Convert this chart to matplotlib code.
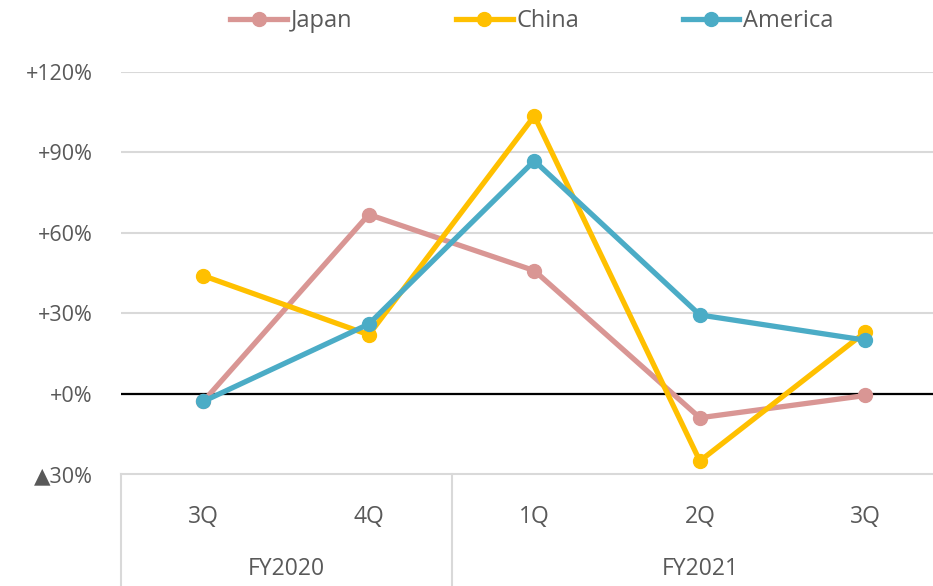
import matplotlib
matplotlib.use("Agg")
import matplotlib.pyplot as plt
import matplotlib.transforms as mtransforms

quarters = ["3Q", "4Q", "1Q", "2Q", "3Q"]
groups = ["FY2020", "FY2021"]
group_sizes = [2, 3]

japan = [-2.8, 66.8, 45.9, -8.9, -0.6]
china = [44.0, 22.0, 103.5, -25.0, 23.0]
america = [-2.8, 26.0, 86.8, 29.4, 20.0]

yticks = [-30, 0, 30, 60, 90, 120]
ytick_labels = ["▲30%", "+0%", "+30%", "+60%", "+90%", "+120%"]

plt.rcParams['font.family'] = ['Open Sans', 'DejaVu Sans']
text_col = '#595959'
grid_col = '#D9D9D9'

fig = plt.figure(figsize=(9.33, 5.86), dpi=100)
ax = fig.add_axes([0.1292, 0.1904, 0.887, 0.6873])

x = list(range(len(quarters)))
series = [("Japan", japan, '#D99694'), ("China", china, '#FFC000'), ("America", america, '#4BACC6')]
for name, vals, col in series:
    ax.plot(x, vals, color=col, lw=3.8, marker='o', ms=10, label=name, zorder=3)

ax.set_xlim(-0.5, len(quarters) - 0.5)
ax.set_ylim(-30, 120)
ax.set_yticks(yticks)
ax.set_yticklabels(ytick_labels, fontsize=15.5, color=text_col)
ax.tick_params(axis='y', length=0, pad=20)
for t in yticks[1:]:
    ax.axhline(t, color=grid_col, lw=1.5, zorder=1)
ax.axhline(0, color='black', lw=1.6, zorder=2)
for s in ax.spines.values():
    s.set_visible(False)
ax.spines['bottom'].set_visible(True)
ax.spines['bottom'].set_color(grid_col)
ax.spines['bottom'].set_linewidth(1.5)

# category axis as a two-level table
ax.set_xticks(x)
ax.set_xticklabels(quarters, fontsize=16.5, color=text_col)
ax.tick_params(axis='x', length=0, pad=22)
trans = mtransforms.blended_transform_factory(ax.transData, ax.transAxes)
edge = -0.5
for g, n in zip(groups, group_sizes):
    ax.plot([edge, edge], [0, -0.35], transform=trans, color=grid_col, lw=1.5, clip_on=False)
    ax.text(edge + n / 2, -0.235, g, transform=trans, ha='center', va='center',
            fontsize=16.5, color=text_col)
    edge += n
ax.plot([edge, edge], [0, -0.35], transform=trans, color=grid_col, lw=1.5, clip_on=False)

fig.legend(loc='center', bbox_to_anchor=(0.57, 0.964), ncol=3, frameon=False,
           fontsize=17, handlelength=2.4, handletextpad=0.15, columnspacing=4.4,
           labelcolor=text_col)

fig.savefig("out.png", dpi=100)
